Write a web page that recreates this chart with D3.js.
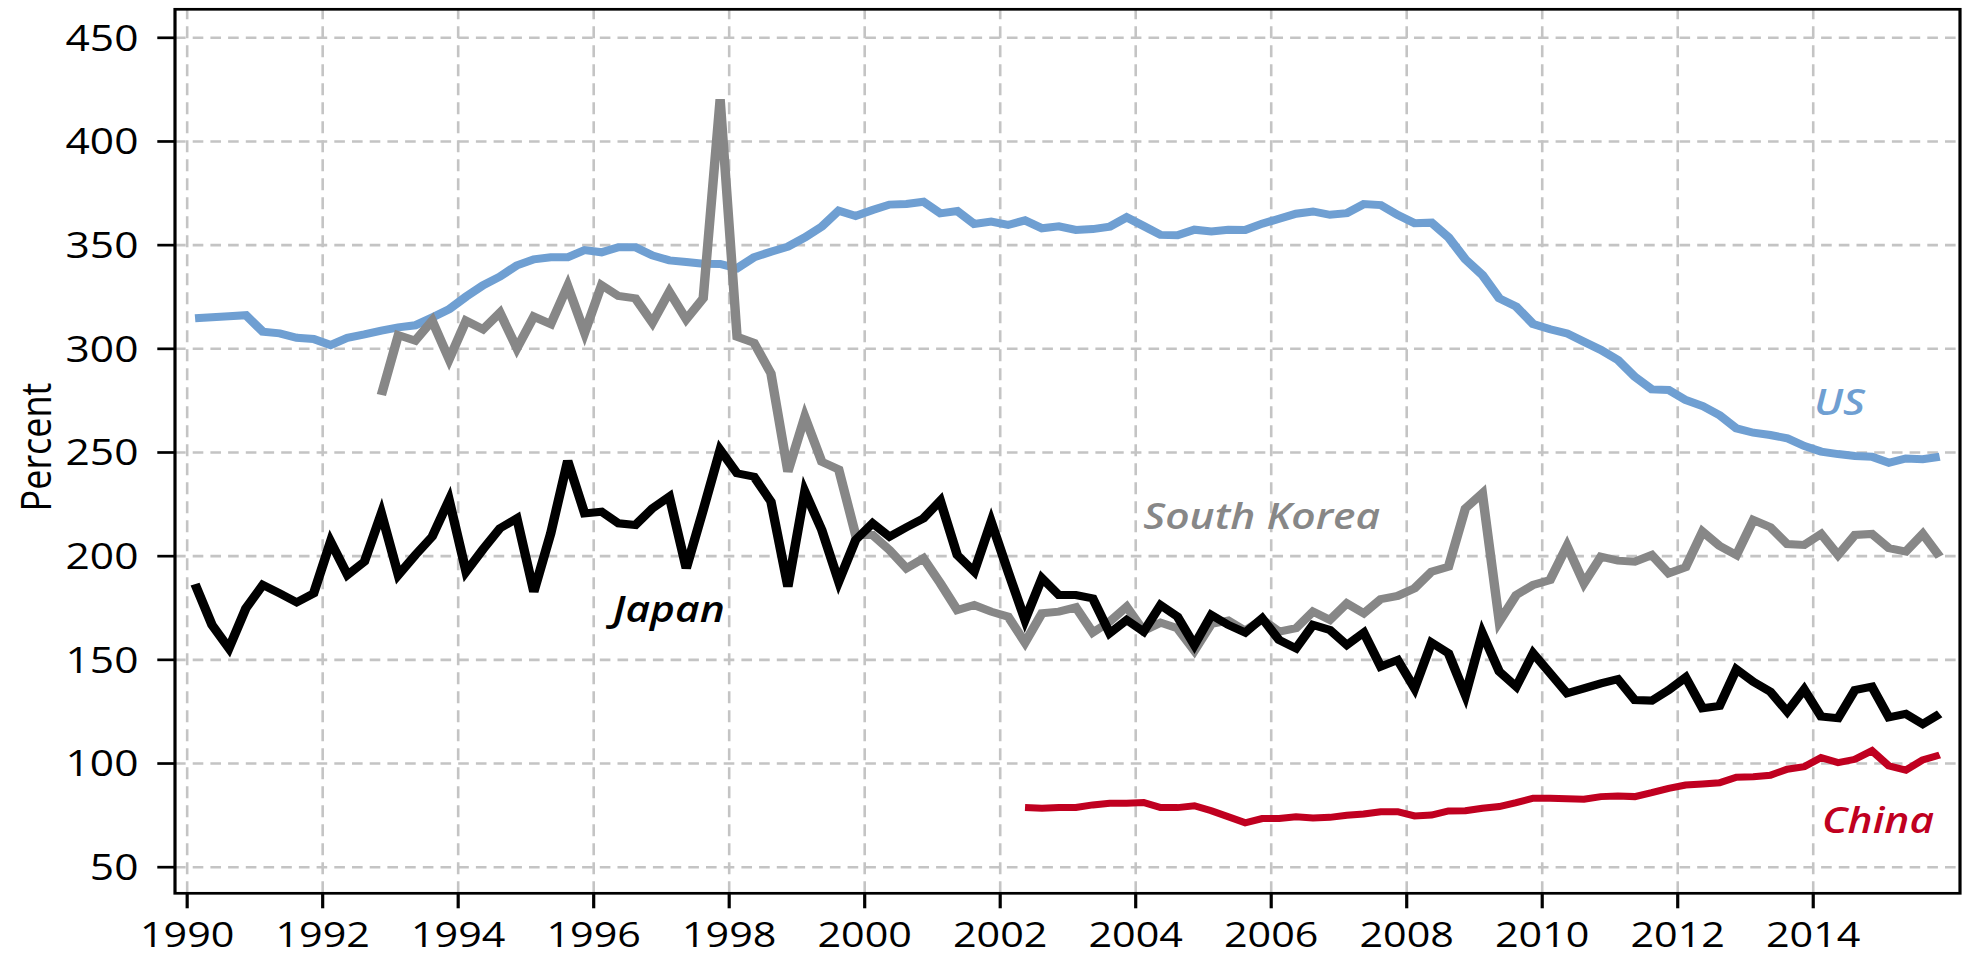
<!DOCTYPE html>
<html>
<head>
<meta charset="utf-8">
<script src="https://cdn.jsdelivr.net/npm/d3@7"></script>
<style>
  html, body { margin: 0; padding: 0; background: #fff; }
  svg { display: block; font-family: "Open Sans", "Noto Sans", sans-serif; }
</style>
</head>
<body>
<div id="chart"></div>
<script>
// Quarterly ratios (first quarter given per series)
const xTicks = [1990, 1992, 1994, 1996, 1998, 2000, 2002, 2004, 2006, 2008, 2010, 2012, 2014];
const yTicks = [50, 100, 150, 200, 250, 300, 350, 400, 450];

const usStart = [1990, 1];
const usValues = [
  314.5, 315, 315.5, 316, 308, 307.2, 305.1, 304.5, 301.6, 305.1, 306.7, 308.5,
  310.1, 311.1, 314.9, 318.8, 324.9, 330.4, 334.6, 340.0, 342.9, 343.9, 343.9, 347.4,
  346.3, 348.7, 348.7, 344.8, 342.4, 341.6, 340.8, 340.7, 338.6, 343.9, 346.6, 349.0,
  353.5, 358.7, 366.4, 363.8, 366.7, 369.3, 369.6, 370.7, 365.1, 366.2, 360.0, 361.1,
  359.5, 361.7, 357.9, 358.8, 357.1, 357.5, 358.7, 363.2, 359.0, 354.7, 354.5, 357.2,
  356.3, 357.2, 357.1, 360.1, 362.5, 364.9, 366.0, 364.4, 365.2, 369.6, 369.1, 364.3,
  360.3, 360.6, 353.5, 342.9, 335.4, 324.1, 320.1, 311.7, 309.2, 307.2, 303.2, 299.2,
  294.4, 286.3, 280.2, 279.9, 275.1, 272.2, 267.8, 261.4, 259.3, 258.2, 256.6, 252.9,
  250.2, 249.0, 248.1, 247.7, 244.8, 246.9, 246.5, 247.7
];

const japanStart = [1990, 1];
const japanValues = [
  186.3, 166.6, 155.3, 174.6, 185.9, 181.8, 177.5, 181.8, 206.8, 190.7, 197.1, 220.4,
  190.7, 200.3, 209.2, 226.9, 192.3, 203.1, 213.2, 218.0, 182.6, 210.8, 245.8, 220.4,
  221.2, 215.6, 214.8, 222.8, 228.5, 193.9, 222.0, 251.0, 239.7, 238.1, 226.1, 185.1,
  230.9, 212.4, 187.5, 207.6, 215.6, 209.2, 213.7, 218.0, 226.5, 200.3, 192.3, 216.4,
  192.3, 169.0, 189.1, 181.0, 181.0, 179.4, 162.6, 169.0, 163.4, 176.2, 170.6, 156.9,
  171.4, 166.6, 162.9, 169.8, 159.3, 155.3, 166.6, 164.2, 156.9, 162.9, 146.5, 149.7,
  136.0, 158.1, 152.9, 132.8, 162.6, 144.1, 136.8, 152.9, 143.3, 133.6, 136.0, 138.4,
  140.4, 130.4, 130.1, 135.2, 141.3, 126.4, 127.5, 145.2, 139.2, 134.4, 124.8, 135.5,
  122.4, 121.6, 135.2, 136.8, 122.0, 123.7, 118.8, 123.7
];

const koreaStart = [1992, 4];
const koreaValues = [
  277.5, 306.4, 303.7, 313.3, 294.7, 313.3, 309.2, 317.2, 300.0, 315.3, 311.7, 330.1,
  307.5, 330.5, 325.2, 324.1, 312.4, 327.3, 314.0, 324.1, 420.1, 305.6, 302.7, 287.9,
  240.5, 267.0, 245.3, 241.6, 210.0, 210.0, 202.7, 193.9, 198.7, 186.7, 173.8, 176.2,
  173.0, 170.6, 158.1, 172.2, 173.0, 175.1, 162.9, 168.2, 175.4, 163.8, 167.7, 165.0,
  154.2, 167.1, 168.7, 163.8, 169.3, 163.4, 165.0, 173.0, 169.0, 177.0, 172.2, 179.0,
  180.6, 184.3, 192.3, 194.7, 222.8, 230.1, 168.2, 181.0, 185.9, 188.3, 204.7, 186.7,
  199.5, 197.6, 197.1, 200.3, 191.5, 194.4, 211.6, 204.7, 200.3, 217.2, 213.7, 205.6,
  205.2, 210.5, 200.3, 210.0, 210.5, 203.6, 202.0, 210.5, 199.5
];

const chinaStart = [2002, 2];
const chinaValues = [
  78.5, 78.2, 78.6, 78.6, 79.8, 80.6, 80.6, 81.0, 78.5, 78.5, 79.4, 77.0,
  74.1, 71.2, 73.2, 73.3, 74.1, 73.5, 73.8, 74.8, 75.4, 76.5, 76.5, 74.5,
  74.9, 76.9, 77.0, 78.2, 79.0, 80.9, 83.0, 83.0, 82.8, 82.5, 83.8, 84.1,
  83.8, 85.7, 87.8, 89.4, 89.9, 90.5, 93.1, 93.4, 94.1, 97.0, 98.2, 102.6,
  100.2, 101.8, 105.9, 98.6, 96.6, 101.5, 103.9
];

// Series labels placed in data space (year, value of left/baseline point)
const labelNames = ["US", "South Korea", "Japan", "China"];
const labelYears = [2014.02, 2004.12, 1996.29, 2014.14];
const labelValues = [267.8, 213.1, 168.0, 66.3];
const seriesColors = ["#6f9fd2", "#878787", "#000000", "#c00020"];

// turn a [year, quarter] start + values into points at mid-quarter
function toPoints(start, values) {
  return values.map((v, k) => {
    const q = start[1] - 1 + k;
    return { t: start[0] + (q + 0.5) / 4, v: v };
  });
}

const width = 1966, height = 957;
const sx = 1.18; // the reference is stretched horizontally

const plotLeft = 175 / sx, plotRight = 1960 / sx, plotTop = 9.3, plotBottom = 893.3;

const svg = d3.select("#chart").append("svg")
  .attr("width", width)
  .attr("height", height);

const g = svg.append("g").attr("transform", `scale(${sx},1)`);

const x = d3.scaleLinear().domain([1989.829, 2016.175]).range([plotLeft, plotRight]);
const y = d3.scaleLinear().domain([37.17, 463.5]).range([plotBottom, plotTop]);

// grid
g.append("g")
  .attr("transform", `translate(${plotLeft},0)`)
  .call(d3.axisLeft(y).tickValues(yTicks).tickSize(-(plotRight - plotLeft)).tickFormat(""))
  .call(s => s.select(".domain").remove())
  .selectAll("line")
  .attr("stroke", "#c4c4c4")
  .attr("stroke-width", 2.6)
  .attr("stroke-dasharray", "9,6");

g.append("g")
  .attr("transform", `translate(0,${plotBottom})`)
  .call(d3.axisBottom(x).tickValues(xTicks).tickSize(-(plotBottom - plotTop)).tickFormat(""))
  .call(s => s.select(".domain").remove())
  .selectAll("line")
  .attr("stroke", "#c4c4c4")
  .attr("stroke-width", 2.2)
  .attr("stroke-dasharray", "12,7");

// lines
const line = d3.line()
  .x(d => x(d.t))
  .y(d => y(d.v));

const series = [
  { pts: toPoints(usStart, usValues), color: seriesColors[0], w: 8 },
  { pts: toPoints(koreaStart, koreaValues), color: seriesColors[1], w: 8 },
  { pts: toPoints(japanStart, japanValues), color: seriesColors[2], w: 8 },
  { pts: toPoints(chinaStart, chinaValues), color: seriesColors[3], w: 7 }
];

series.forEach(s => {
  g.append("path")
    .datum(s.pts)
    .attr("fill", "none")
    .attr("stroke", s.color)
    .attr("stroke-width", s.w)
    .attr("d", line);
});

// frame
g.append("rect")
  .attr("x", plotLeft)
  .attr("y", plotTop)
  .attr("width", plotRight - plotLeft)
  .attr("height", plotBottom - plotTop)
  .attr("fill", "none")
  .attr("stroke", "#000")
  .attr("stroke-width", 2.7);

// y axis
const yAxis = g.append("g")
  .attr("transform", `translate(${plotLeft},0)`)
  .call(d3.axisLeft(y).tickValues(yTicks).tickSize(15).tickPadding(16));
yAxis.select(".domain").remove();
yAxis.selectAll("line").attr("stroke", "#000").attr("stroke-width", 2.7);
yAxis.selectAll("text")
  .attr("fill", "#000")
  .attr("font-size", "36px")
  .attr("font-family", "'Open Sans', sans-serif")
  .attr("dy", "0.36em");

// x axis
const xAxis = g.append("g")
  .attr("transform", `translate(0,${plotBottom})`)
  .call(d3.axisBottom(x).tickValues(xTicks).tickSize(15).tickPadding(13.5).tickFormat(d3.format("d")));
xAxis.select(".domain").remove();
xAxis.selectAll("line").attr("stroke", "#000").attr("stroke-width", 2.7);
xAxis.selectAll("text")
  .attr("fill", "#000")
  .attr("font-size", "35px")
  .attr("font-family", "'Open Sans', sans-serif");

// y axis title
g.append("text")
  .attr("transform", `translate(43,447) rotate(-90)`)
  .attr("text-anchor", "middle")
  .attr("font-size", "36px")
  .attr("fill", "#000")
  .text("Percent");

// series labels
g.selectAll(".series-label")
  .data(labelNames)
  .enter()
  .append("text")
  .attr("class", "series-label")
  .attr("x", (d, k) => x(labelYears[k]))
  .attr("y", (d, k) => y(labelValues[k]))
  .attr("font-size", "36px")
  .attr("font-style", "italic")
  .attr("font-weight", 600)
  .attr("fill", (d, k) => seriesColors[k])
  .text(d => d);
</script>
</body>
</html>
